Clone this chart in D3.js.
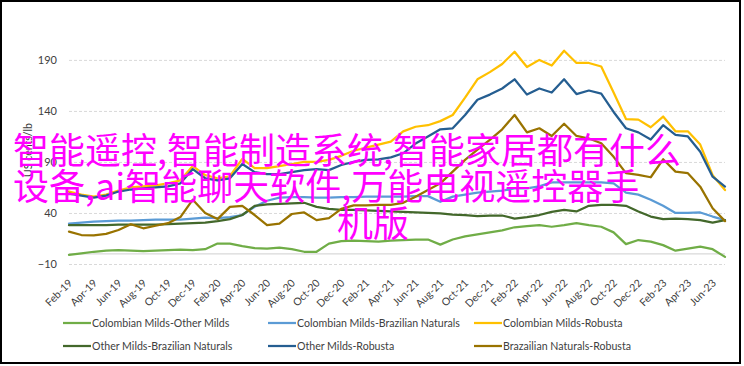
<!DOCTYPE html>
<html><head><meta charset="utf-8">
<script src="https://cdn.jsdelivr.net/npm/d3@7/dist/d3.min.js"></script>
<style>body{margin:0;background:#fff}svg{display:block}</style>
</head><body>
<svg id="c" width="744" height="366"></svg>
<script>
const categories = ["Feb-19","Mar-19","Apr-19","May-19","Jun-19","Jul-19","Aug-19","Sep-19","Oct-19","Nov-19","Dec-19","Jan-20",
"Feb-20","Mar-20","Apr-20","May-20","Jun-20","Jul-20","Aug-20","Sep-20","Oct-20","Nov-20","Dec-20","Jan-21",
"Feb-21","Mar-21","Apr-21","May-21","Jun-21","Jul-21","Aug-21","Sep-21","Oct-21","Nov-21","Dec-21","Jan-22",
"Feb-22","Mar-22","Apr-22","May-22","Jun-22","Jul-22","Aug-22","Sep-22","Oct-22","Nov-22","Dec-22","Jan-23",
"Feb-23","Mar-23","Apr-23","May-23","Jun-23","Jul-23"];
const tickLabels = ["Feb-19","Apr-19","Jun-19","Aug-19","Oct-19","Dec-19","Feb-20","Apr-20","Jun-20","Aug-20","Oct-20","Dec-20",
"Feb-21","Apr-21","Jun-21","Aug-21","Oct-21","Dec-21","Feb-22","Apr-22","Jun-22","Aug-22","Oct-22","Dec-22","Feb-23","Apr-23","Jun-23"];
const yTicks = [-10, 40, 90, 140, 190];
const yTitle = "US cents/lb";

const seriesNames = ["Colombian Milds-Other Milds","Colombian Milds-Brazilian Naturals","Colombian Milds-Robusta",
"Other Milds-Brazilian Naturals","Other Milds-Robusta","Brazailian Naturals-Robusta"];
const seriesColors = ["#70AD47","#5B9BD5","#FFC000","#43682B","#255E91","#997300"];

const colMildsOtherMilds = [-1,0.5,2,3,3.5,3,2.5,3,3.5,4,3.5,4.5,10,10,7.5,5.5,5,6,4.5,2,2,10,12.5,13,12.5,12,13,13.5,14,14,9,14,17,19,21,23,26,27,28,26.5,28,30,28,26.5,21,9.5,13.5,12,8.5,3,5,7,4.5,-3];
const colMildsBrazNat = [29.5,30.5,31.5,32,32.5,32.5,33,33.5,33.5,33.5,34.5,35.5,35,36,38,46,52,55,55.5,55.5,55,55,55.5,55.5,56,56,56,56,56.5,56.5,51,56,58,60,61,62,64,64,66,70,70,70,70,70,69,60,58,53,47,40,40,40.5,36.5,33];
const colMildsRobusta = [61,58,56,58,62,65,66,67,69,72,86,77,74,76,93,84,84,86,88,90,90,92,96,101,104,107,110,120,124.5,126,130,136,153,171,178,186,198,183,190,184.5,199,187,187,183.5,158,132,131.5,124,134.5,120,120,107,77,62.5];
const otherMildsBrazNat = [28,28,28,28,28.5,28.5,28.5,28.5,29,29.5,30,30.5,32,34,38,47,48.5,49,49.5,50,46,44,43,43,42.5,42,41.5,41,40.5,40,39.5,38.5,38,37,37.5,37.5,34.5,36,38,41,43,41.5,47,48,48,47,41.5,36.5,34,34.5,34,33,30.5,33];
const otherMildsRobusta = [59,57,55,57,61,63,64,65,66,69,83,74,72,74,88,80,78,78,80,82,83,82,87,90,92,92.5,94.5,98.5,108,115,122,123,136,151,156,162,171,156,162,158,171,156.5,160,157,139,123,119,112,126,116.5,115,100,75.6,65.8];
const brazNatRobusta = [21.7,18.4,18,19.5,23.3,29,25,27.5,30,36,53,40,34,46,47,38,28,29.5,39,40.5,33,35,44,47.5,47.5,48,48,50,56,62.5,69,80.5,92,102,111.6,122,136,119,123,115.5,127.5,115.5,113,108.3,95,79,77.3,75,92.6,80.5,79,65.8,44.6,32];

const overlayLines = ["智能遥控,智能制造系统,智能家居都有什么","设备,ai智能聊天软件,万能电视遥控器手","机版"];

const seriesValues = [colMildsOtherMilds,colMildsBrazNat,colMildsRobusta,otherMildsBrazNat,otherMildsRobusta,brazNatRobusta];

const svg = d3.select("#c");
const L = 69, R = 725, T = 59.9, B = 264;
const x = d3.scalePoint().domain(categories).range([L, R]);
const y = d3.scaleLinear().domain([-10, 190]).range([B, T]);
const font = "Lato, 'Open Sans', sans-serif";

// frame
svg.append("rect").attr("x",1).attr("y",1).attr("width",739).attr("height",362)
  .attr("fill","none").attr("stroke","#000").attr("stroke-width",2);

// y axis + gridlines
const ya = svg.append("g").attr("transform",`translate(${L},0)`)
  .call(d3.axisLeft(y).tickValues(yTicks).tickSize(-(R-L)).tickPadding(12));
ya.select(".domain").remove();
ya.selectAll(".tick line").attr("stroke","#D9D9D9").attr("stroke-width",1).attr("stroke-dasharray","3,2");
ya.selectAll(".tick text").attr("fill","#404040").style("font-family",font).style("font-size","11px");

// zero line
svg.append("line").attr("x1",L).attr("x2",R).attr("y1",y(0)).attr("y2",y(0))
  .attr("stroke","#D9D9D9").attr("stroke-width",1.2);

// x axis
const xa = svg.append("g").attr("transform",`translate(0,${B})`)
  .call(d3.axisBottom(x).tickValues(tickLabels).tickSize(0));
xa.select(".domain").remove();
xa.selectAll(".tick text").attr("fill","#404040").style("font-family",font).style("font-size","10.5px")
  .attr("x",0).attr("y",0).attr("dy","0.35em").attr("text-anchor","end")
  .attr("transform","translate(1,17) rotate(-45)");

// y title
svg.append("text").attr("transform","translate(32,150) rotate(-90)").attr("text-anchor","middle")
  .attr("fill","#404040").style("font-family",font).style("font-size","10.5px").text(yTitle);

// lines
const line = d3.line().x((d,i)=>x(categories[i])).y(d=>y(d)).curve(d3.curveLinear);
seriesValues.forEach((vals,k)=>{
  svg.append("path").datum(vals).attr("d",line).attr("fill","none")
    .attr("stroke",seriesColors[k]).attr("stroke-width",2.25)
    .attr("stroke-linejoin","round").attr("stroke-linecap","round");
});

// legend
const legX = [63, 268, 474], legY = [323, 346];
seriesNames.forEach((name,k)=>{
  const gx = legX[k%3], gy = legY[Math.floor(k/3)];
  const g = svg.append("g").attr("transform",`translate(${gx},${gy})`);
  g.append("line").attr("x1",0).attr("x2",28).attr("y1",0).attr("y2",0)
    .attr("stroke",seriesColors[k]).attr("stroke-width",2.25);
  g.append("text").attr("x",29).attr("y",0).attr("dy","0.35em").attr("fill","#404040")
    .style("font-family",font).style("font-size","10.6px").text(name);
});

// overlay text
const ov = svg.append("text").attr("fill","#FF00FF")
  .style("font-family","'Noto Sans CJK SC', sans-serif").style("font-size","36px");
const ovPos = [[13,164],[13,200],[337,237]];
overlayLines.forEach((t,i)=>{
  ov.append("tspan").attr("x",ovPos[i][0]).attr("y",ovPos[i][1]).text(t);
});
</script>
</body></html>
